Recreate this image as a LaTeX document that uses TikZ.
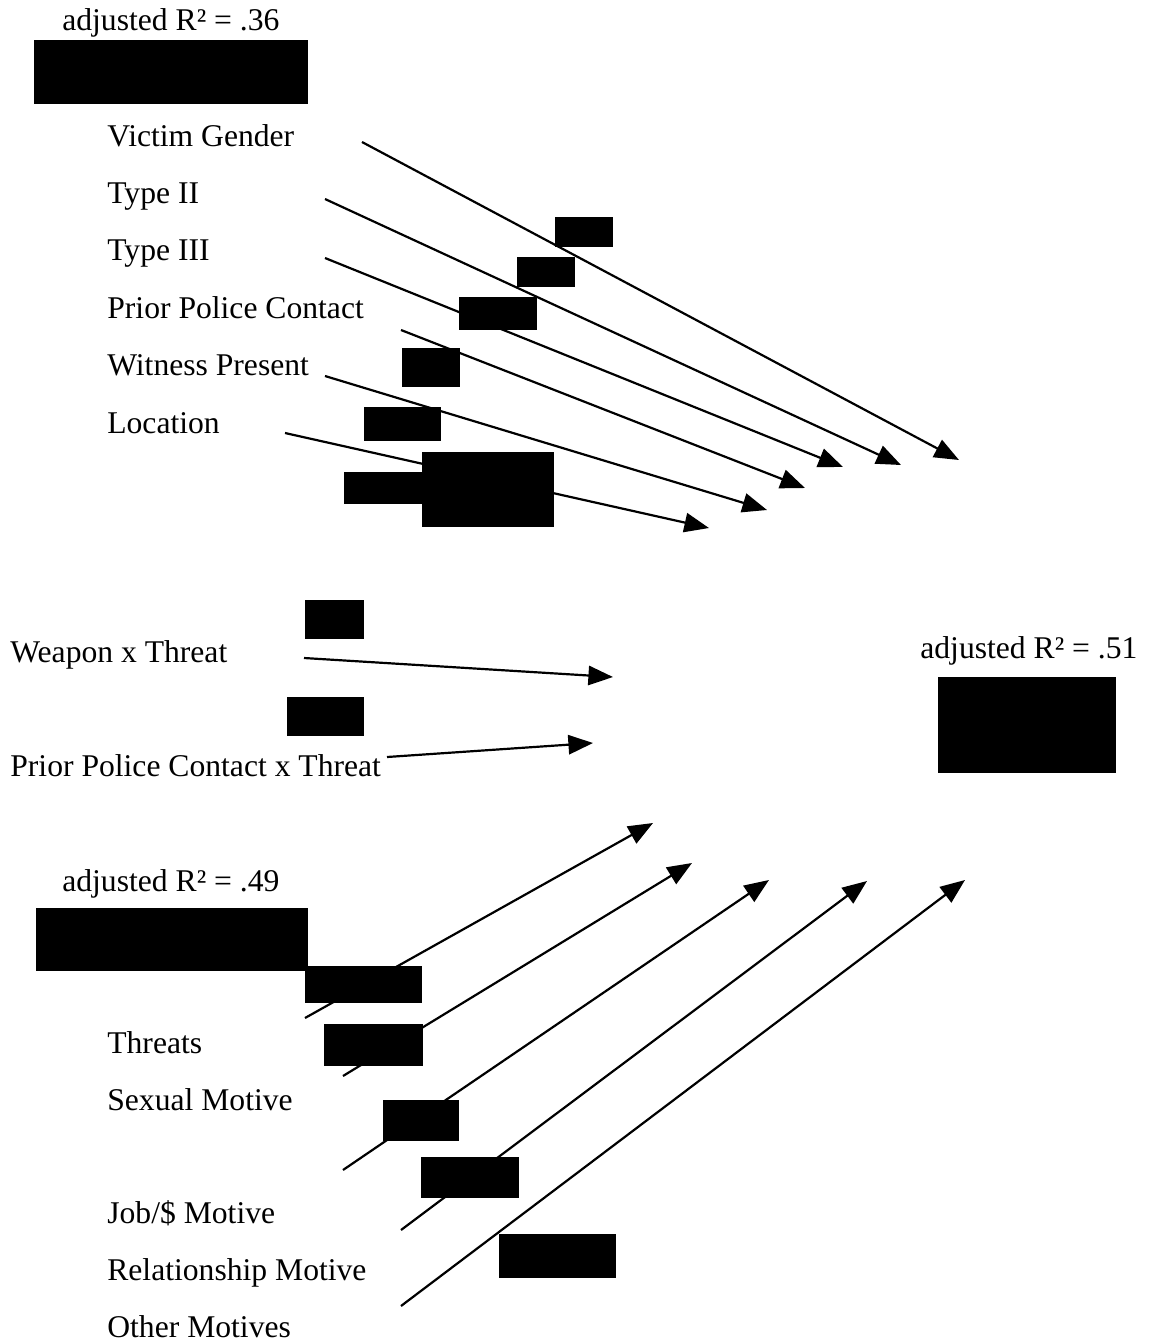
\documentclass[tikz,border=0pt]{standalone}
\usepackage{fontspec}
\setmainfont{Liberation Serif}
\usetikzlibrary{arrows.meta}
\begin{document}
\begin{tikzpicture}[x=0.02cm,y=-0.02cm,
  lbl/.style={anchor=base west, inner sep=0pt, font=\fontsize{18}{21}\selectfont},
  arr/.style={line width=1.25pt, -{Triangle[length=14pt,width=11pt]}},
  redact/.style={fill=black}]
\useasboundingbox (0,0) rectangle (1150,1343);

% ---------- top group ----------
\node[lbl] (r36) at (62,30) {adjusted R² = .36};
\node[lbl] (vg)  at (107,146) {Victim Gender};
\node[lbl] (t2)  at (107,203) {Type II};
\node[lbl] (t3)  at (107,260) {Type III};
\node[lbl] (ppc) at (107,318) {Prior Police Contact};
\node[lbl] (wp)  at (107,375) {Witness Present};
\node[lbl] (loc) at (107,433) {Location};

\coordinate (vg-s)  at (362,142);  \coordinate (vg-e)  at (959,460);
\coordinate (t2-s)  at (325,199);  \coordinate (t2-e)  at (901,465);
\coordinate (t3-s)  at (325,258);  \coordinate (t3-e)  at (843,467);
\coordinate (ppc-s) at (401,330);  \coordinate (ppc-e) at (805,488);
\coordinate (wp-s)  at (325,376);  \coordinate (wp-e)  at (767,510);
\coordinate (loc-s) at (285,433);  \coordinate (loc-e) at (709,528);

\draw[arr] (vg-s) -- (vg-e);
\draw[arr] (t2-s) -- (t2-e);
\draw[arr] (t3-s) -- (t3-e);
\draw[arr] (ppc-s) -- (ppc-e);
\draw[arr] (wp-s) -- (wp-e);
\draw[arr] (loc-s) -- (loc-e);

\fill[redact] (34,40) rectangle (308,104);
\fill[redact] (555,217) rectangle (613,247);
\fill[redact] (517,257) rectangle (575,287);
\fill[redact] (459,297) rectangle (537,330);
\fill[redact] (402,348) rectangle (460,387);
\fill[redact] (364,407) rectangle (441,441);
\fill[redact] (344,472) rectangle (423,504);
\fill[redact] (422,452) rectangle (554,527);

% ---------- middle ----------
\node[lbl] (wt)  at (10,662) {Weapon x Threat};
\node[lbl] (pct) at (10,776) {Prior Police Contact x Threat};
\node[lbl] (r51) at (920,658) {adjusted R² = .51};

\coordinate (wt-s)  at (304,658);  \coordinate (wt-e)  at (613,677);
\coordinate (pct-s) at (387,757);  \coordinate (pct-e) at (593,743);
\draw[arr] (wt-s) -- (wt-e);
\draw[arr] (pct-s) -- (pct-e);

\fill[redact] (305,600) rectangle (364,639);
\fill[redact] (287,697) rectangle (364,736);
\fill[redact] (938,677) rectangle (1116,773);

% ---------- bottom group ----------
\node[lbl] (r49) at (62,891) {adjusted R² = .49};
\node[lbl] (thr) at (107,1053) {Threats};
\node[lbl] (sex) at (107,1110) {Sexual Motive};
\node[lbl] (job) at (107,1223) {Job/\$ Motive};
\node[lbl] (rel) at (107,1280) {Relationship Motive};
\node[lbl] (oth) at (107,1337) {Other Motives};

\coordinate (thr-s) at (305,1018);  \coordinate (thr-e) at (653,823);
\coordinate (sex-s) at (343,1076);  \coordinate (sex-e) at (692,863);
\coordinate (job-s) at (343,1170);  \coordinate (job-e) at (769,880);
\coordinate (rel-s) at (401,1230);  \coordinate (rel-e) at (867,881);
\coordinate (oth-s) at (401,1306);  \coordinate (oth-e) at (965,880);

\draw[arr] (thr-s) -- (thr-e);
\draw[arr] (sex-s) -- (sex-e);
\draw[arr] (job-s) -- (job-e);
\draw[arr] (rel-s) -- (rel-e);
\draw[arr] (oth-s) -- (oth-e);

\fill[redact] (36,908) rectangle (308,971);
\fill[redact] (305,966) rectangle (422,1003);
\fill[redact] (324,1024) rectangle (423,1066);
\fill[redact] (383,1100) rectangle (459,1141);
\fill[redact] (421,1157) rectangle (519,1198);
\fill[redact] (499,1234) rectangle (616,1278);
\end{tikzpicture}
\end{document}
